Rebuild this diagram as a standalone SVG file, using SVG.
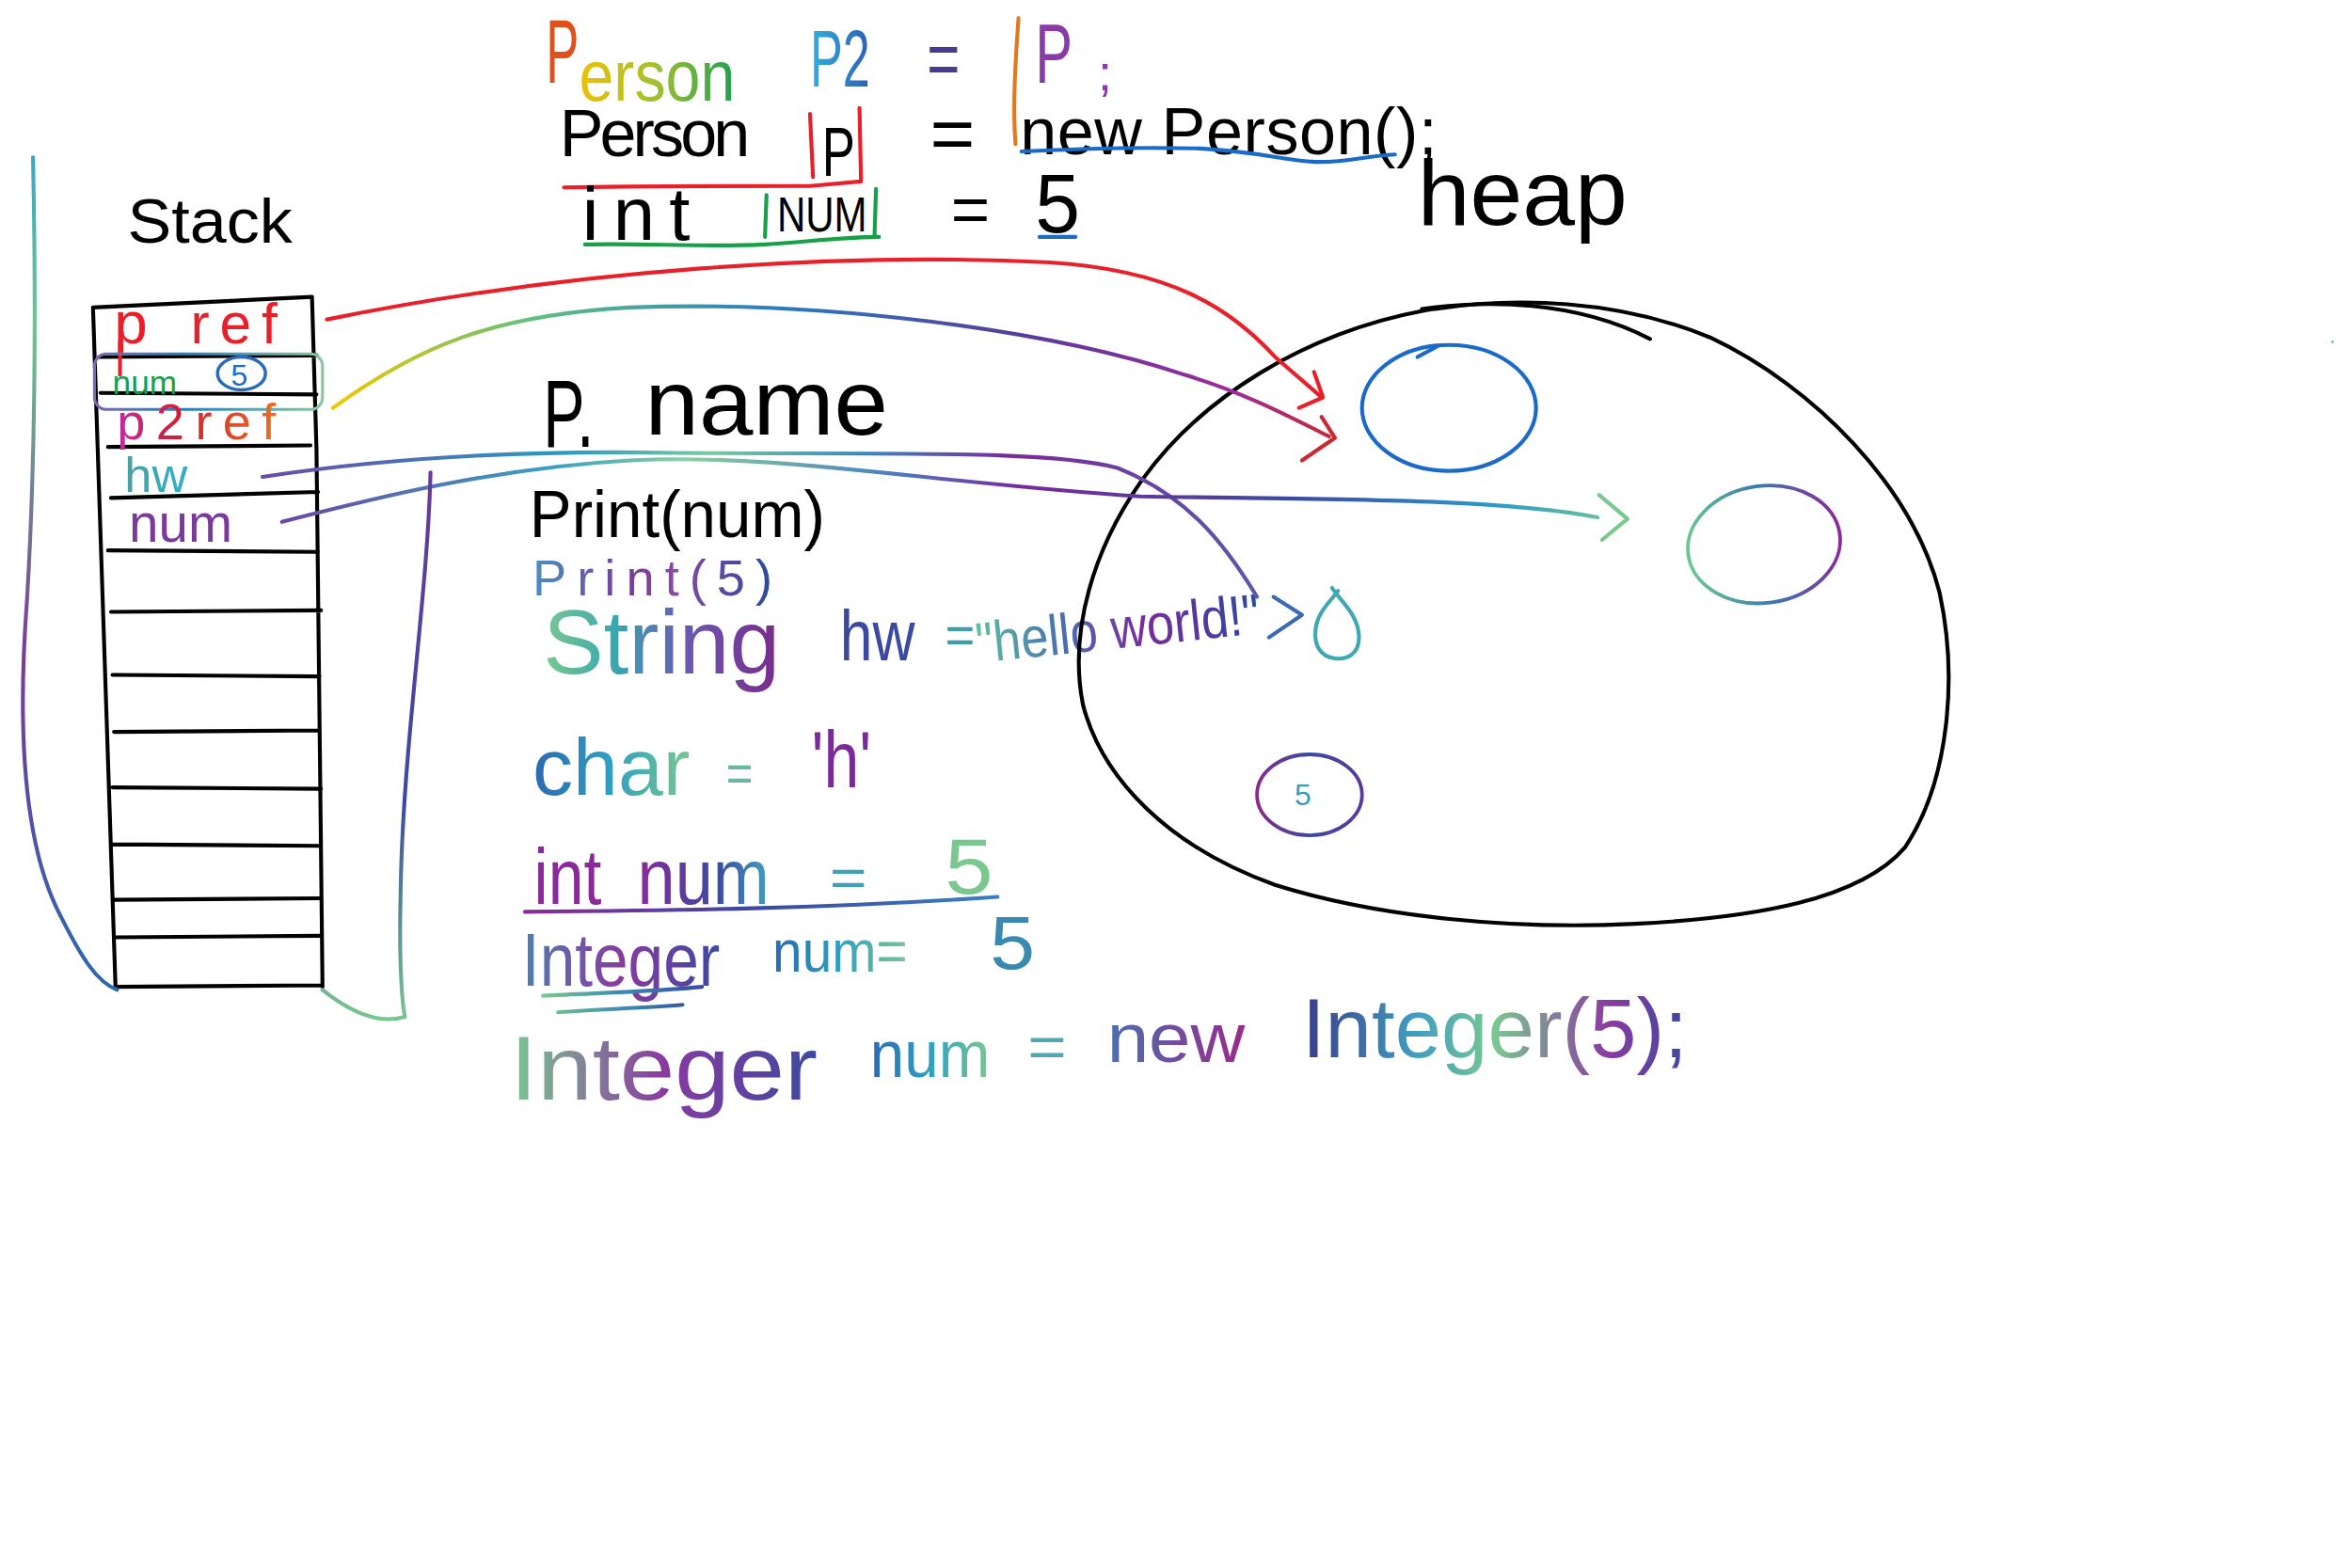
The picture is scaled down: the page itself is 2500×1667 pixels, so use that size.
<svg xmlns="http://www.w3.org/2000/svg" width="2500" height="1667" viewBox="0 0 2500 1667">
<defs>
<style>
text{font-family:"Liberation Sans",Arial,sans-serif;}
.ink{fill:none;stroke-linecap:round;stroke-linejoin:round;stroke-width:2.6}
.k{stroke:#000}
.red{stroke:#e8202a}
.grn{stroke:#18a048}
.blu{stroke:#1a6ac8}
</style>
<linearGradient id="gYG"><stop offset="0" stop-color="#f0c000"/><stop offset="0.5" stop-color="#a0c030"/><stop offset="1" stop-color="#20a050"/></linearGradient>
<linearGradient id="gCB"><stop offset="0" stop-color="#30b0e0"/><stop offset="1" stop-color="#3060b0"/></linearGradient>
<linearGradient id="gP2"><stop offset="0" stop-color="#c02aa0"/><stop offset="0.4" stop-color="#d02030"/><stop offset="1" stop-color="#e87020"/></linearGradient>
<linearGradient id="gTeal"><stop offset="0" stop-color="#4aa0a0"/><stop offset="1" stop-color="#30b0c8"/></linearGradient>
<linearGradient id="gPr"><stop offset="0" stop-color="#4a90c0"/><stop offset="0.4" stop-color="#7a3a9a"/><stop offset="0.6" stop-color="#8a4aa0"/><stop offset="1" stop-color="#2a4aa0"/></linearGradient>
<linearGradient id="gStr"><stop offset="0" stop-color="#7ac890"/><stop offset="0.3" stop-color="#3aa8b0"/><stop offset="0.6" stop-color="#6a5ab0"/><stop offset="1" stop-color="#7a2a8a"/></linearGradient>
<linearGradient id="gHello"><stop offset="0" stop-color="#60c0a0"/><stop offset="0.3" stop-color="#4a70b0"/><stop offset="0.6" stop-color="#7a2a9a"/><stop offset="1" stop-color="#2a4aa0"/></linearGradient>
<linearGradient id="gChar"><stop offset="0" stop-color="#2a6ab0"/><stop offset="0.5" stop-color="#30a0c0"/><stop offset="1" stop-color="#7ac890"/></linearGradient>
<linearGradient id="gInt"><stop offset="0" stop-color="#8a2a9a"/><stop offset="0.6" stop-color="#3a4aa0"/><stop offset="1" stop-color="#40a0c0"/></linearGradient>
<linearGradient id="gInteg"><stop offset="0" stop-color="#4a80b0"/><stop offset="0.5" stop-color="#8a3aa0"/><stop offset="1" stop-color="#3a4aa0"/></linearGradient>
<linearGradient id="gIntegL"><stop offset="0" stop-color="#7ac890"/><stop offset="0.5" stop-color="#8a3aa0"/><stop offset="1" stop-color="#3a4aa0"/></linearGradient>
<linearGradient id="gNew"><stop offset="0" stop-color="#4a70b0"/><stop offset="1" stop-color="#9a2a8a"/></linearGradient>
<linearGradient id="gInteg2"><stop offset="0" stop-color="#3a3a8a"/><stop offset="0.3" stop-color="#40a0c0"/><stop offset="0.5" stop-color="#7ac890"/><stop offset="0.8" stop-color="#8a3aa0"/><stop offset="1" stop-color="#3a4aa0"/></linearGradient>
<linearGradient id="gBox"><stop offset="0" stop-color="#7a6ab0"/><stop offset="0.4" stop-color="#2a80c0"/><stop offset="1" stop-color="#8ac8a0"/></linearGradient>
<linearGradient id="gUl" ><stop offset="0" stop-color="#8a2a9a"/><stop offset="0.5" stop-color="#3a4aa0"/><stop offset="1" stop-color="#3a80c0"/></linearGradient>
<linearGradient id="gUl2"><stop offset="0" stop-color="#7ac890"/><stop offset="0.5" stop-color="#3a8ab0"/><stop offset="1" stop-color="#3a4aa0"/></linearGradient>
<linearGradient id="gRain" gradientUnits="userSpaceOnUse" x1="222" y1="0" x2="890" y2="0"><stop offset="0" stop-color="#f0c800"/><stop offset="0.2" stop-color="#60c080"/><stop offset="0.45" stop-color="#2a7ac0"/><stop offset="0.7" stop-color="#5a3a9a"/><stop offset="0.9" stop-color="#a02a9a"/><stop offset="1" stop-color="#c82a30"/></linearGradient>
<linearGradient id="gHw" gradientUnits="userSpaceOnUse" x1="175" y1="0" x2="840" y2="0"><stop offset="0" stop-color="#6a4aa8"/><stop offset="0.3" stop-color="#2a9ac0"/><stop offset="0.45" stop-color="#7ac8a0"/><stop offset="0.6" stop-color="#3a8ac0"/><stop offset="0.75" stop-color="#7a2a9a"/><stop offset="1" stop-color="#5a5aa8"/></linearGradient>
<linearGradient id="gNum" gradientUnits="userSpaceOnUse" x1="188" y1="0" x2="1085" y2="0"><stop offset="0" stop-color="#6a4aa0"/><stop offset="0.2" stop-color="#3aa0c0"/><stop offset="0.3" stop-color="#8ad0a0"/><stop offset="0.45" stop-color="#4a80c0"/><stop offset="0.55" stop-color="#7a2a9a"/><stop offset="0.75" stop-color="#3a4aa0"/><stop offset="0.9" stop-color="#2a9ac8"/><stop offset="1" stop-color="#7ac890"/></linearGradient>
<linearGradient id="gLeft" gradientUnits="userSpaceOnUse" x1="0" y1="105" x2="0" y2="660"><stop offset="0" stop-color="#3aa8c0"/><stop offset="0.2" stop-color="#6ac890"/><stop offset="0.6" stop-color="#7a3a9a"/><stop offset="1" stop-color="#2a6ab0"/></linearGradient>
<linearGradient id="gRight" gradientUnits="userSpaceOnUse" x1="0" y1="315" x2="0" y2="682"><stop offset="0" stop-color="#6a3a9a"/><stop offset="0.6" stop-color="#3a4aa0"/><stop offset="1" stop-color="#7ac890"/></linearGradient>
<linearGradient id="gCirc"><stop offset="0" stop-color="#6ac890"/><stop offset="0.5" stop-color="#3a7ab0"/><stop offset="1" stop-color="#8a2a9a"/></linearGradient>
<linearGradient id="gFive"><stop offset="0" stop-color="#8a2a8a"/><stop offset="0.5" stop-color="#3a4aa0"/><stop offset="1" stop-color="#5a3a9a"/></linearGradient>
</defs>
<rect width="2500" height="1667" fill="#fff"/>
<g transform="scale(1.5944)">

<g id="code-top">
<text x="364" y="55" font-size="60" fill="#e0501a" textLength="22" lengthAdjust="spacingAndGlyphs">P</text>
<text x="386" y="67" font-size="48" fill="url(#gYG)" textLength="104" lengthAdjust="spacingAndGlyphs">erson</text>
<text x="540" y="58" font-size="54" fill="url(#gCB)" textLength="40" lengthAdjust="spacingAndGlyphs">P2</text>
<text x="618" y="57" font-size="52" fill="#4a3a8a" textLength="22" lengthAdjust="spacingAndGlyphs">=</text>
<path class="ink" stroke="#e07a20" d="M679,12 C677,40 675,70 677,96"/>
<text x="690" y="55" font-size="56" fill="#8a3aa8" textLength="25" lengthAdjust="spacingAndGlyphs">P</text>
<text x="732" y="60" font-size="34" fill="#8a3aa8">;</text>

<text x="373" y="104" font-size="44" fill="#000" textLength="127" lengthAdjust="spacing">Person</text>
<path class="ink red" d="M540,76 L542,118 M573,72 L574,121 M376,125 C420,124 480,124 540,124 L574,121"/>
<text x="548" y="117" font-size="46" fill="#000" textLength="22" lengthAdjust="spacingAndGlyphs">P</text>
<text x="620" y="106" font-size="50" fill="#000" textLength="30" lengthAdjust="spacingAndGlyphs">=</text>
<text x="680" y="103" font-size="44" fill="#000" textLength="278" lengthAdjust="spacing">new Person();</text>
<path class="ink blu" d="M681,101 C720,99 760,98 800,99 C840,101 860,108 880,108 C900,108 910,104 930,103"/>

<text x="388" y="160" font-size="50" fill="#000" textLength="72" lengthAdjust="spacing">int</text>
<path class="ink grn" d="M511,130 L510,158 M584,126 L583,158 M390,163 C430,162 470,165 510,163 C540,161 565,158 586,158"/>
<text x="518" y="154" font-size="32" fill="#000" textLength="60" lengthAdjust="spacingAndGlyphs">NUM</text>
<text x="634" y="155" font-size="44" fill="#000" textLength="26" lengthAdjust="spacingAndGlyphs">=</text>
<text x="690" y="155" font-size="56" fill="#000" textLength="30" lengthAdjust="spacingAndGlyphs">5</text>
<path class="ink blu" d="M693,158 L717,158"/>
</g>

<g id="heap-label">
<text x="945" y="150" font-size="62" fill="#000" textLength="140" lengthAdjust="spacingAndGlyphs">heap</text>
</g>

<g id="stack">
<text x="85" y="162" font-size="42" fill="#000" textLength="110" lengthAdjust="spacingAndGlyphs">Stack</text>
<path class="ink k" d="M62,205 L208,198 M62,205 L77,658 M208,198 L211,300 L215,658 M77,658 L215,657
M66,238 L211,237 M67,262 L211,263 M72,298 L207,297 M74,332 L212,328 M72,367 L212,368
M74,408 L214,407 M75,450 L213,451 M76,488 L212,487 M75,525 L214,526 M75,563 L214,564 M76,600 L213,599 M77,625 L213,624"/>
<text x="76" y="229" font-size="40" fill="#e8202a">p</text>
<text x="127" y="229" font-size="38" fill="#e8202a" textLength="58" lengthAdjust="spacing">ref</text>
<path class="ink red" d="M80,228 L80,250"/>
<rect x="63" y="236" width="152" height="37" rx="8" fill="none" stroke="url(#gBox)" stroke-width="2"/>
<text x="75" y="263" font-size="22" fill="#18a048" textLength="43" lengthAdjust="spacingAndGlyphs">num</text>
<ellipse cx="161" cy="249" rx="16" ry="11" fill="none" stroke="#2a6ab8" stroke-width="2.2"/>
<text x="154" y="257" font-size="20" fill="#1a6ac8">5</text>
<text x="78" y="293" font-size="34" fill="url(#gP2)" textLength="106" lengthAdjust="spacing">p2ref</text>
<text x="83" y="328" font-size="32" fill="url(#gTeal)" textLength="42" lengthAdjust="spacingAndGlyphs">hw</text>
<text x="86" y="361" font-size="36" fill="#7a3a9a" textLength="69" lengthAdjust="spacingAndGlyphs">num</text>
</g>

<g id="code-middle">
<text x="362" y="298" font-size="64" fill="#000" textLength="34" lengthAdjust="spacingAndGlyphs">P.</text>
<text x="430" y="290" font-size="62" fill="#000" textLength="162" lengthAdjust="spacingAndGlyphs">name</text>
<text x="353" y="358" font-size="44" fill="#000" textLength="197" lengthAdjust="spacingAndGlyphs">Print(num)</text>
<text x="355" y="397" font-size="34" fill="url(#gPr)" textLength="160" lengthAdjust="spacing">Print(5)</text>
<text x="362" y="449" font-size="60" fill="url(#gStr)" textLength="158" lengthAdjust="spacingAndGlyphs">String</text>
<text x="560" y="440" font-size="48" fill="#3a4aa0" textLength="50" lengthAdjust="spacingAndGlyphs">hw</text>
<text x="630" y="436" font-size="36" fill="#40a0a8" textLength="20" lengthAdjust="spacingAndGlyphs">=</text>
<text x="652" y="442" font-size="38" fill="url(#gHello)" textLength="190" lengthAdjust="spacingAndGlyphs" transform="rotate(-6 652 442)">"hello world!"</text>

<text x="355" y="530" font-size="54" fill="url(#gChar)" textLength="105" lengthAdjust="spacingAndGlyphs">char</text>
<text x="484" y="528" font-size="36" fill="#6ab8a0" textLength="18" lengthAdjust="spacingAndGlyphs">=</text>
<text x="541" y="525" font-size="54" fill="#7a2a9a" textLength="40" lengthAdjust="spacingAndGlyphs">'h'</text>

<text x="356" y="603" font-size="52" fill="#8a2a9a" textLength="45" lengthAdjust="spacingAndGlyphs">int</text>
<text x="425" y="603" font-size="52" fill="url(#gInt)" textLength="88" lengthAdjust="spacingAndGlyphs">num</text>
<text x="553" y="598" font-size="36" fill="#40a0b8" textLength="25" lengthAdjust="spacingAndGlyphs">=</text>
<text x="630" y="596" font-size="52" fill="#7ac890" textLength="32" lengthAdjust="spacingAndGlyphs">5</text>
<path class="ink" stroke="url(#gUl)" d="M350,608 C450,607 550,606 665,598"/>

<text x="348" y="657" font-size="50" fill="url(#gInteg)" textLength="132" lengthAdjust="spacingAndGlyphs">Integer</text>
<text x="515" y="648" font-size="40" fill="url(#gChar)" textLength="90" lengthAdjust="spacingAndGlyphs">num=</text>
<text x="660" y="646" font-size="50" fill="#3a8ab0" textLength="30" lengthAdjust="spacingAndGlyphs">5</text>
<path class="ink" stroke="url(#gUl2)" d="M362,664 C400,662 440,661 468,658 M372,675 C400,673 430,672 455,670"/>

<text x="340" y="733" font-size="60" fill="url(#gIntegL)" textLength="205" lengthAdjust="spacingAndGlyphs">Integer</text>
<text x="580" y="718" font-size="44" fill="url(#gChar)" textLength="80" lengthAdjust="spacingAndGlyphs">num</text>
<text x="685" y="712" font-size="40" fill="#50a8b0" textLength="26" lengthAdjust="spacingAndGlyphs">=</text>
<text x="738" y="708" font-size="46" fill="url(#gNew)" textLength="92" lengthAdjust="spacingAndGlyphs">new</text>
<text x="868" y="705" font-size="56" fill="url(#gInteg2)" textLength="257" lengthAdjust="spacingAndGlyphs">Integer(5);</text>
</g>

<g id="heap">
<path class="ink k" d="M760,322 C800,265 870,222 950,207 C1010,197 1080,200 1140,225 C1210,258 1275,325 1293,395 C1305,450 1300,520 1270,565 C1240,600 1170,612 1090,616 C1010,620 920,612 850,590 C780,565 735,520 722,470 C712,420 730,365 760,322 Z"/>
<path class="ink k" d="M948,206 C990,200 1050,200 1100,226"/>
</g>
<g id="obj-person">
<ellipse cx="966" cy="272" rx="58" ry="42" fill="none" stroke="#1a6ac8" stroke-width="2.6"/>
<path class="ink blu" d="M945,238 L958,231"/>
</g>
<g id="obj-integer">
<ellipse cx="1176" cy="363" rx="51" ry="39" fill="none" stroke="url(#gCirc)" stroke-width="2.4" transform="rotate(-8 1176 363)"/>
</g>
<g id="obj-string">
<path class="ink" stroke="#40a8b0" stroke-width="2.2" d="M888,392 C893,400 906,410 906,425 C906,437 897,440 890,439 C880,438 876,430 877,420 C878,408 888,400 892,394"/>
</g>
<g id="obj-five">
<ellipse cx="873" cy="530" rx="35" ry="27" fill="none" stroke="url(#gFive)" stroke-width="2.4"/>
<text x="863" y="537" font-size="20" fill="#3a9ac0">5</text>
</g>

<g id="connectors">
<path class="ink red" d="M218,213 C380,180 560,168 700,175 C780,180 820,205 850,238 L880,264"/>
<path class="ink red" d="M876,248 L882,265 L866,272"/>
<path class="ink" stroke="url(#gRain)" stroke-width="2.2" d="M222,272 C280,230 330,210 420,205 C550,200 700,220 790,250 C830,262 860,278 886,291"/>
<path class="ink" stroke="#c82a30" stroke-width="2.2" d="M881,278 L890,292 L868,307"/>
<path class="ink" stroke="url(#gHw)" stroke-width="2.2" d="M175,318 C260,305 350,300 450,302 C600,303 700,300 745,312 C790,330 815,360 838,398"/>
<path class="ink" stroke="#3a6ab0" stroke-width="2.2" d="M849,398 L868,410 L846,425"/>
<path class="ink" stroke="url(#gNum)" stroke-width="2.2" d="M188,348 C250,332 330,312 420,307 C520,302 620,322 760,331 C880,333 1000,332 1065,345"/>
<path class="ink" stroke="#7ac890" stroke-width="2.2" d="M1066,330 L1085,346 L1068,360"/>
<path class="ink" stroke="url(#gLeft)" stroke-width="2" d="M22,105 C24,200 24,300 18,400 C12,480 14,560 40,610 C55,640 65,655 78,660"/>
<path class="ink" stroke="url(#gRight)" stroke-width="2" d="M287,315 C285,400 268,500 267,600 C266,640 268,670 270,678 C250,684 230,672 215,660"/>
</g>
<circle cx="1555" cy="228" r="0.8" fill="#3aa8c0"/>
</g>
</svg>
